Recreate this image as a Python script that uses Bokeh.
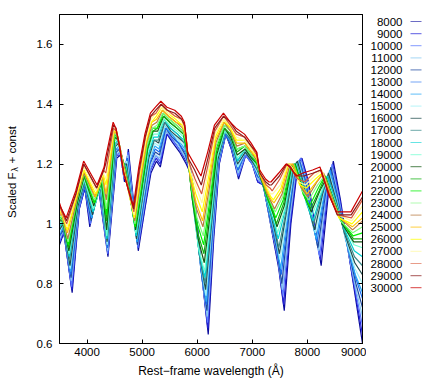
import math
from bokeh.plotting import figure
from bokeh.models import Range1d, FixedTicker, LinearAxis, ColumnDataSource
from bokeh.layouts import row
from bokeh.embed import file_html
from bokeh.resources import INLINE
from bokeh.core.properties import value

# ---------------- data ----------------
velocities = [8000, 9000, 10000, 11000, 12000, 13000, 14000, 15000, 16000, 17000, 18000,
              19000, 20000, 21000, 22000, 23000, 24000, 25000, 26000, 27000, 28000, 29000, 30000]

series_colors = ["#0a0a9c", "#2424d8", "#5a78ff", "#86c8f0", "#1f4aa0", "#1a6cf0", "#2aa8f5",
                 "#9ff0f5", "#1f4d4d", "#3c8c8c", "#00d2d2", "#70ffd0", "#145a14", "#10b010",
                 "#00f000", "#80f880", "#b87840", "#ffc000", "#ffff00", "#fff8a0", "#d85a3a",
                 "#8a1c1c", "#cc0000"]

x_ticks = [4000, 5000, 6000, 7000, 8000, 9000]
y_ticks = [0.6, 0.8, 1, 1.2, 1.4, 1.6]
y_tick_labels = ["0.6", "0.8", "1", "1.2", "1.4", "1.6"]

# Spectral feature points; entry i of each list belongs to velocities[i].
wave_01 = [3500, 3500, 3500, 3500, 3500, 3500, 3500, 3500, 3500, 3500, 3500, 3500, 3500, 3500, 3500, 3500, 3500, 3500, 3500, 3500, 3500, 3500, 3500]
flux_01 = [0.93, 0.94, 0.94, 0.95, 0.96, 0.96, 0.97, 0.97, 0.98, 0.99, 0.99, 1.00, 1.01, 1.01, 1.02, 1.03, 1.03, 1.04, 1.04, 1.05, 1.06, 1.06, 1.07]
wave_02 = [3580, 3578, 3576, 3574, 3572, 3570, 3568, 3566, 3564, 3562, 3560, 3558, 3556, 3554, 3552, 3550, 3548, 3546, 3544, 3542, 3540, 3538, 3536]
flux_02 = [0.97, 0.97, 0.98, 0.98, 0.98, 0.99, 0.99, 1.00, 1.00, 1.00, 1.01, 1.01, 1.01, 1.02, 1.02, 1.02, 1.03, 1.03, 1.04, 1.04, 1.04, 1.05, 1.05]
wave_03 = [3730, 3725, 3720, 3715, 3710, 3705, 3700, 3695, 3690, 3685, 3680, 3675, 3670, 3665, 3660, 3655, 3650, 3645, 3640, 3635, 3630, 3625, 3620]
flux_03 = [0.77, 0.78, 0.79, 0.81, 0.82, 0.83, 0.84, 0.85, 0.86, 0.88, 0.89, 0.90, 0.91, 0.92, 0.93, 0.94, 0.95, 0.97, 0.98, 0.99, 1.00, 1.01, 1.02]
wave_04 = [3860, 3857, 3854, 3851, 3848, 3845, 3842, 3839, 3836, 3833, 3830, 3827, 3824, 3821, 3818, 3815, 3812, 3809, 3806, 3803, 3800, 3797, 3794]
flux_04 = [1.05, 1.05, 1.05, 1.06, 1.06, 1.06, 1.06, 1.06, 1.06, 1.07, 1.07, 1.07, 1.07, 1.08, 1.08, 1.08, 1.08, 1.09, 1.09, 1.10, 1.10, 1.10, 1.11]
wave_05 = [3960, 3959, 3958, 3957, 3956, 3955, 3954, 3953, 3952, 3951, 3950, 3949, 3948, 3947, 3946, 3945, 3944, 3943, 3942, 3941, 3940, 3939, 3938]
flux_05 = [1.12, 1.12, 1.13, 1.13, 1.13, 1.13, 1.14, 1.14, 1.14, 1.14, 1.15, 1.15, 1.16, 1.16, 1.17, 1.17, 1.17, 1.18, 1.18, 1.19, 1.20, 1.20, 1.21]
wave_06 = [4050, 4056, 4062, 4068, 4074, 4080, 4086, 4092, 4098, 4104, 4110, 4116, 4122, 4128, 4134, 4140, 4146, 4152, 4158, 4164, 4170, 4176, 4182]
flux_06 = [0.99, 1.00, 1.00, 1.01, 1.01, 1.02, 1.02, 1.03, 1.03, 1.04, 1.04, 1.05, 1.06, 1.07, 1.07, 1.08, 1.09, 1.09, 1.10, 1.11, 1.12, 1.12, 1.13]
wave_07 = [4200, 4205, 4210, 4215, 4220, 4225, 4230, 4235, 4240, 4245, 4250, 4255, 4260, 4265, 4270, 4275, 4280, 4285, 4290, 4295, 4300, 4305, 4310]
flux_07 = [1.13, 1.13, 1.13, 1.13, 1.13, 1.13, 1.13, 1.13, 1.13, 1.13, 1.13, 1.13, 1.14, 1.14, 1.15, 1.15, 1.16, 1.16, 1.17, 1.17, 1.18, 1.18, 1.19]
wave_08 = [4380, 4378, 4376, 4374, 4372, 4370, 4368, 4366, 4364, 4362, 4360, 4358, 4356, 4354, 4352, 4350, 4348, 4346, 4344, 4342, 4340, 4338, 4336]
flux_08 = [0.89, 0.90, 0.90, 0.91, 0.92, 0.92, 0.93, 0.93, 0.94, 0.95, 0.95, 0.96, 0.98, 1.01, 1.03, 1.05, 1.08, 1.10, 1.13, 1.15, 1.17, 1.20, 1.22]
wave_09 = [4540, 4537, 4534, 4531, 4528, 4525, 4522, 4519, 4516, 4513, 4510, 4507, 4504, 4501, 4498, 4495, 4492, 4489, 4486, 4483, 4480, 4477, 4474]
flux_09 = [1.22, 1.23, 1.23, 1.24, 1.24, 1.25, 1.25, 1.26, 1.26, 1.27, 1.27, 1.28, 1.29, 1.29, 1.30, 1.30, 1.31, 1.31, 1.31, 1.32, 1.32, 1.33, 1.34]
wave_10 = [4610, 4606, 4602, 4598, 4594, 4590, 4586, 4582, 4578, 4574, 4570, 4566, 4562, 4558, 4554, 4550, 4546, 4542, 4538, 4534, 4530, 4526, 4522]
flux_10 = [1.23, 1.23, 1.24, 1.24, 1.25, 1.25, 1.26, 1.26, 1.27, 1.27, 1.28, 1.28, 1.28, 1.29, 1.29, 1.30, 1.30, 1.30, 1.31, 1.31, 1.31, 1.32, 1.32]
wave_11 = [4680, 4676, 4672, 4668, 4664, 4660, 4656, 4652, 4648, 4644, 4640, 4636, 4632, 4628, 4624, 4620, 4616, 4612, 4608, 4604, 4600, 4596, 4592]
flux_11 = [1.14, 1.15, 1.15, 1.16, 1.17, 1.18, 1.18, 1.19, 1.20, 1.21, 1.21, 1.22, 1.22, 1.23, 1.23, 1.23, 1.24, 1.24, 1.24, 1.25, 1.25, 1.25, 1.26]
wave_12 = [4750, 4746, 4742, 4738, 4734, 4730, 4726, 4722, 4718, 4714, 4710, 4706, 4702, 4698, 4694, 4690, 4686, 4682, 4678, 4674, 4670, 4666, 4662]
flux_12 = [1.25, 1.24, 1.24, 1.23, 1.22, 1.22, 1.21, 1.21, 1.20, 1.19, 1.19, 1.18, 1.18, 1.18, 1.18, 1.18, 1.18, 1.17, 1.17, 1.17, 1.17, 1.17, 1.17]
wave_13 = [4930, 4926, 4922, 4918, 4914, 4910, 4906, 4902, 4898, 4894, 4890, 4886, 4882, 4878, 4874, 4870, 4866, 4862, 4858, 4854, 4850, 4846, 4842]
flux_13 = [0.91, 0.92, 0.92, 0.93, 0.93, 0.94, 0.94, 0.95, 0.95, 0.96, 0.96, 0.97, 0.98, 0.99, 0.99, 1.00, 1.01, 1.02, 1.02, 1.03, 1.04, 1.05, 1.06]
wave_14 = [5050, 5045, 5040, 5035, 5030, 5025, 5020, 5015, 5010, 5005, 5000, 4995, 4990, 4985, 4980, 4975, 4970, 4965, 4960, 4955, 4950, 4945, 4940]
flux_14 = [1.05, 1.05, 1.06, 1.06, 1.07, 1.07, 1.08, 1.08, 1.09, 1.09, 1.10, 1.10, 1.11, 1.11, 1.12, 1.13, 1.14, 1.15, 1.16, 1.17, 1.17, 1.18, 1.19]
wave_15 = [5160, 5155, 5150, 5145, 5140, 5135, 5130, 5125, 5120, 5115, 5110, 5105, 5100, 5095, 5090, 5085, 5080, 5075, 5070, 5065, 5060, 5055, 5050]
flux_15 = [1.17, 1.18, 1.18, 1.19, 1.20, 1.20, 1.21, 1.21, 1.22, 1.23, 1.23, 1.24, 1.25, 1.25, 1.26, 1.26, 1.27, 1.27, 1.28, 1.28, 1.29, 1.29, 1.30]
wave_16 = [5260, 5255, 5250, 5245, 5240, 5235, 5230, 5225, 5220, 5215, 5210, 5205, 5200, 5195, 5190, 5185, 5180, 5175, 5170, 5165, 5160, 5155, 5150]
flux_16 = [1.21, 1.22, 1.23, 1.23, 1.24, 1.25, 1.26, 1.27, 1.28, 1.28, 1.29, 1.30, 1.31, 1.31, 1.32, 1.32, 1.33, 1.34, 1.34, 1.35, 1.36, 1.36, 1.37]
wave_17 = [5330, 5326, 5322, 5318, 5314, 5310, 5306, 5302, 5298, 5294, 5290, 5286, 5282, 5278, 5274, 5270, 5266, 5262, 5258, 5254, 5250, 5246, 5242]
flux_17 = [1.19, 1.20, 1.21, 1.22, 1.23, 1.24, 1.25, 1.26, 1.27, 1.28, 1.29, 1.30, 1.31, 1.32, 1.32, 1.33, 1.34, 1.35, 1.36, 1.37, 1.37, 1.38, 1.39]
wave_18 = [5450, 5445, 5440, 5435, 5430, 5425, 5420, 5415, 5410, 5405, 5400, 5395, 5390, 5385, 5380, 5375, 5370, 5365, 5360, 5355, 5350, 5345, 5340]
flux_18 = [1.30, 1.30, 1.31, 1.31, 1.32, 1.32, 1.33, 1.33, 1.34, 1.34, 1.35, 1.35, 1.36, 1.36, 1.37, 1.37, 1.38, 1.38, 1.39, 1.39, 1.40, 1.40, 1.41]
wave_19 = [5560, 5555, 5550, 5545, 5540, 5535, 5530, 5525, 5520, 5515, 5510, 5505, 5500, 5495, 5490, 5485, 5480, 5475, 5470, 5465, 5460, 5455, 5450]
flux_19 = [1.27, 1.28, 1.28, 1.29, 1.29, 1.30, 1.30, 1.31, 1.31, 1.32, 1.32, 1.33, 1.34, 1.34, 1.35, 1.35, 1.36, 1.36, 1.37, 1.37, 1.38, 1.38, 1.39]
wave_20 = [5680, 5676, 5672, 5668, 5664, 5660, 5656, 5652, 5648, 5644, 5640, 5636, 5632, 5628, 5624, 5620, 5616, 5612, 5608, 5604, 5600, 5596, 5592]
flux_20 = [1.24, 1.25, 1.25, 1.26, 1.27, 1.27, 1.28, 1.28, 1.29, 1.30, 1.30, 1.31, 1.32, 1.32, 1.33, 1.33, 1.34, 1.34, 1.35, 1.36, 1.36, 1.37, 1.38]
wave_21 = [5800, 5796, 5792, 5788, 5784, 5780, 5776, 5772, 5768, 5764, 5760, 5756, 5752, 5748, 5744, 5740, 5736, 5732, 5728, 5724, 5720, 5716, 5712]
flux_21 = [1.20, 1.21, 1.22, 1.22, 1.23, 1.24, 1.25, 1.26, 1.27, 1.27, 1.28, 1.29, 1.30, 1.30, 1.31, 1.31, 1.32, 1.33, 1.33, 1.34, 1.35, 1.35, 1.36]
wave_22 = [5900, 5894, 5888, 5882, 5876, 5870, 5864, 5858, 5852, 5846, 5840, 5834, 5828, 5822, 5816, 5810, 5804, 5798, 5792, 5786, 5780, 5774, 5768]
flux_22 = [1.16, 1.17, 1.17, 1.18, 1.18, 1.19, 1.19, 1.20, 1.20, 1.21, 1.21, 1.22, 1.23, 1.24, 1.25, 1.27, 1.28, 1.29, 1.30, 1.31, 1.32, 1.33, 1.34]
wave_23 = [6000, 5992, 5984, 5976, 5968, 5960, 5952, 5944, 5936, 5928, 5920, 5912, 5904, 5896, 5888, 5880, 5872, 5864, 5856, 5848, 5840, 5832, 5824]
flux_23 = [1.00, 1.01, 1.01, 1.02, 1.03, 1.04, 1.04, 1.05, 1.06, 1.07, 1.07, 1.08, 1.09, 1.11, 1.12, 1.14, 1.15, 1.17, 1.18, 1.19, 1.21, 1.22, 1.24]
wave_24 = [6100, 6093, 6086, 6079, 6072, 6065, 6058, 6051, 6044, 6037, 6030, 6023, 6016, 6009, 6002, 5995, 5988, 5981, 5974, 5967, 5960, 5953, 5946]
flux_24 = [0.80, 0.81, 0.82, 0.83, 0.84, 0.85, 0.87, 0.88, 0.89, 0.90, 0.91, 0.92, 0.95, 0.97, 1.00, 1.02, 1.05, 1.07, 1.10, 1.13, 1.15, 1.18, 1.20]
wave_25 = [6200, 6194, 6188, 6182, 6176, 6170, 6164, 6158, 6152, 6146, 6140, 6134, 6128, 6122, 6116, 6110, 6104, 6098, 6092, 6086, 6080, 6074, 6068]
flux_25 = [0.63, 0.65, 0.67, 0.69, 0.71, 0.73, 0.74, 0.76, 0.78, 0.80, 0.82, 0.84, 0.87, 0.90, 0.93, 0.96, 0.99, 1.01, 1.04, 1.07, 1.10, 1.13, 1.16]
wave_26 = [6300, 6295, 6290, 6285, 6280, 6275, 6270, 6265, 6260, 6255, 6250, 6245, 6240, 6235, 6230, 6225, 6220, 6215, 6210, 6205, 6200, 6195, 6190]
flux_26 = [0.95, 0.96, 0.96, 0.97, 0.98, 0.98, 0.99, 0.99, 1.00, 1.01, 1.01, 1.02, 1.04, 1.06, 1.08, 1.10, 1.12, 1.14, 1.16, 1.18, 1.20, 1.22, 1.24]
wave_27 = [6400, 6396, 6392, 6388, 6384, 6380, 6376, 6372, 6368, 6364, 6360, 6356, 6352, 6348, 6344, 6340, 6336, 6332, 6328, 6324, 6320, 6316, 6312]
flux_27 = [1.20, 1.20, 1.20, 1.21, 1.21, 1.21, 1.21, 1.21, 1.21, 1.22, 1.22, 1.22, 1.23, 1.24, 1.25, 1.26, 1.27, 1.28, 1.29, 1.30, 1.31, 1.32, 1.33]
wave_28 = [6520, 6518, 6516, 6514, 6512, 6510, 6508, 6506, 6504, 6502, 6500, 6498, 6496, 6494, 6492, 6490, 6488, 6486, 6484, 6482, 6480, 6478, 6476]
flux_28 = [1.30, 1.30, 1.30, 1.30, 1.30, 1.30, 1.31, 1.31, 1.31, 1.31, 1.31, 1.31, 1.32, 1.32, 1.33, 1.33, 1.34, 1.34, 1.35, 1.35, 1.36, 1.36, 1.37]
wave_29 = [6620, 6619, 6618, 6617, 6616, 6615, 6614, 6613, 6612, 6611, 6610, 6609, 6608, 6607, 6606, 6605, 6604, 6603, 6602, 6601, 6600, 6599, 6598]
flux_29 = [1.25, 1.25, 1.26, 1.26, 1.26, 1.27, 1.27, 1.28, 1.28, 1.28, 1.29, 1.29, 1.29, 1.30, 1.31, 1.31, 1.31, 1.32, 1.32, 1.33, 1.33, 1.34, 1.34]
wave_30 = [6750, 6748, 6746, 6744, 6742, 6740, 6738, 6736, 6734, 6732, 6730, 6728, 6726, 6724, 6722, 6720, 6718, 6716, 6714, 6712, 6710, 6708, 6706]
flux_30 = [1.15, 1.16, 1.16, 1.17, 1.18, 1.18, 1.19, 1.19, 1.20, 1.21, 1.21, 1.22, 1.23, 1.24, 1.25, 1.25, 1.26, 1.27, 1.28, 1.29, 1.30, 1.31, 1.32]
wave_31 = [6880, 6879, 6878, 6877, 6876, 6875, 6874, 6873, 6872, 6871, 6870, 6869, 6868, 6867, 6866, 6865, 6864, 6863, 6862, 6861, 6860, 6859, 6858]
flux_31 = [1.23, 1.23, 1.23, 1.24, 1.24, 1.24, 1.24, 1.24, 1.24, 1.25, 1.25, 1.25, 1.25, 1.26, 1.26, 1.26, 1.27, 1.27, 1.28, 1.28, 1.29, 1.29, 1.30]
wave_32 = [7000, 6999, 6998, 6997, 6996, 6995, 6994, 6993, 6992, 6991, 6990, 6989, 6988, 6987, 6986, 6985, 6984, 6983, 6982, 6981, 6980, 6979, 6978]
flux_32 = [1.20, 1.20, 1.20, 1.21, 1.21, 1.21, 1.21, 1.21, 1.21, 1.22, 1.22, 1.22, 1.22, 1.23, 1.23, 1.23, 1.24, 1.24, 1.25, 1.25, 1.26, 1.26, 1.27]
wave_33 = [7100, 7099, 7098, 7097, 7096, 7095, 7094, 7093, 7092, 7091, 7090, 7089, 7088, 7087, 7086, 7085, 7084, 7083, 7082, 7081, 7080, 7079, 7078]
flux_33 = [1.14, 1.14, 1.15, 1.15, 1.16, 1.16, 1.17, 1.17, 1.18, 1.18, 1.19, 1.19, 1.20, 1.20, 1.20, 1.21, 1.21, 1.22, 1.22, 1.23, 1.23, 1.24, 1.24]
wave_34 = [7200, 7197, 7194, 7191, 7188, 7185, 7182, 7179, 7176, 7173, 7170, 7167, 7164, 7161, 7158, 7155, 7152, 7149, 7146, 7143, 7140, 7137, 7134]
flux_34 = [1.13, 1.13, 1.13, 1.14, 1.14, 1.14, 1.14, 1.14, 1.14, 1.15, 1.15, 1.15, 1.15, 1.15, 1.16, 1.16, 1.16, 1.16, 1.17, 1.17, 1.17, 1.17, 1.18]
wave_35 = [7350, 7345, 7340, 7335, 7330, 7325, 7320, 7315, 7310, 7305, 7300, 7295, 7290, 7285, 7280, 7275, 7270, 7265, 7260, 7255, 7250, 7245, 7240]
flux_35 = [0.98, 0.99, 1.00, 1.00, 1.01, 1.02, 1.03, 1.04, 1.05, 1.05, 1.06, 1.07, 1.08, 1.08, 1.09, 1.10, 1.10, 1.11, 1.12, 1.13, 1.13, 1.14, 1.15]
wave_36 = [7480, 7472, 7464, 7456, 7448, 7440, 7432, 7424, 7416, 7408, 7400, 7392, 7384, 7376, 7368, 7360, 7352, 7344, 7336, 7328, 7320, 7312, 7304]
flux_36 = [0.85, 0.87, 0.88, 0.90, 0.91, 0.93, 0.94, 0.96, 0.97, 0.99, 1.00, 1.02, 1.03, 1.04, 1.05, 1.06, 1.07, 1.08, 1.09, 1.10, 1.12, 1.13, 1.14]
wave_37 = [7580, 7569, 7558, 7547, 7536, 7525, 7514, 7503, 7492, 7481, 7470, 7459, 7448, 7437, 7426, 7415, 7404, 7393, 7382, 7371, 7360, 7349, 7338]
flux_37 = [0.71, 0.73, 0.76, 0.78, 0.80, 0.83, 0.85, 0.88, 0.90, 0.92, 0.95, 0.97, 0.99, 1.00, 1.02, 1.04, 1.05, 1.07, 1.08, 1.10, 1.11, 1.13, 1.14]
wave_38 = [7700, 7690, 7680, 7670, 7660, 7650, 7640, 7630, 7620, 7610, 7600, 7590, 7580, 7570, 7560, 7550, 7540, 7530, 7520, 7510, 7500, 7490, 7480]
flux_38 = [1.00, 1.00, 1.01, 1.01, 1.02, 1.02, 1.03, 1.03, 1.04, 1.04, 1.05, 1.05, 1.06, 1.07, 1.08, 1.09, 1.10, 1.11, 1.12, 1.13, 1.15, 1.16, 1.17]
wave_39 = [7830, 7820, 7810, 7800, 7790, 7780, 7770, 7760, 7750, 7740, 7730, 7720, 7710, 7700, 7690, 7680, 7670, 7660, 7650, 7640, 7630, 7620, 7610]
flux_39 = [1.20, 1.20, 1.20, 1.20, 1.20, 1.20, 1.19, 1.19, 1.19, 1.19, 1.19, 1.19, 1.19, 1.19, 1.19, 1.19, 1.19, 1.20, 1.20, 1.20, 1.20, 1.20, 1.20]
wave_40 = [7900, 7890, 7880, 7870, 7860, 7850, 7840, 7830, 7820, 7810, 7800, 7790, 7780, 7770, 7760, 7750, 7740, 7730, 7720, 7710, 7700, 7690, 7680]
flux_40 = [1.22, 1.22, 1.22, 1.21, 1.21, 1.21, 1.21, 1.21, 1.21, 1.20, 1.20, 1.20, 1.20, 1.20, 1.20, 1.20, 1.20, 1.20, 1.19, 1.19, 1.19, 1.19, 1.19]
wave_41 = [8020, 8008, 7996, 7984, 7972, 7960, 7948, 7936, 7924, 7912, 7900, 7888, 7876, 7864, 7852, 7840, 7828, 7816, 7804, 7792, 7780, 7768, 7756]
flux_41 = [1.14, 1.14, 1.14, 1.14, 1.14, 1.14, 1.14, 1.14, 1.14, 1.14, 1.14, 1.14, 1.14, 1.15, 1.15, 1.15, 1.15, 1.16, 1.16, 1.16, 1.16, 1.17, 1.17]
wave_42 = [8130, 8115, 8100, 8085, 8070, 8055, 8040, 8025, 8010, 7995, 7980, 7965, 7950, 7935, 7920, 7905, 7890, 7875, 7860, 7845, 7830, 7815, 7800]
flux_42 = [1.00, 1.01, 1.01, 1.02, 1.03, 1.04, 1.04, 1.05, 1.06, 1.07, 1.07, 1.08, 1.09, 1.10, 1.10, 1.11, 1.12, 1.13, 1.13, 1.14, 1.15, 1.16, 1.16]
wave_43 = [8250, 8235, 8220, 8205, 8190, 8175, 8160, 8145, 8130, 8115, 8100, 8085, 8070, 8055, 8040, 8025, 8010, 7995, 7980, 7965, 7950, 7935, 7920]
flux_43 = [0.86, 0.88, 0.89, 0.91, 0.92, 0.94, 0.95, 0.97, 0.98, 1.00, 1.01, 1.03, 1.04, 1.05, 1.06, 1.08, 1.09, 1.10, 1.12, 1.13, 1.14, 1.16, 1.17]
wave_44 = [8380, 8367, 8354, 8341, 8328, 8315, 8302, 8289, 8276, 8263, 8250, 8237, 8224, 8211, 8198, 8185, 8172, 8159, 8146, 8133, 8120, 8107, 8094]
flux_44 = [1.10, 1.10, 1.10, 1.10, 1.10, 1.10, 1.10, 1.10, 1.10, 1.10, 1.10, 1.10, 1.11, 1.11, 1.12, 1.13, 1.14, 1.14, 1.15, 1.16, 1.17, 1.17, 1.18]
wave_45 = [8470, 8459, 8448, 8437, 8426, 8415, 8404, 8393, 8382, 8371, 8360, 8349, 8338, 8327, 8316, 8305, 8294, 8283, 8272, 8261, 8250, 8239, 8228]
flux_45 = [1.21, 1.20, 1.20, 1.19, 1.19, 1.18, 1.18, 1.17, 1.17, 1.16, 1.16, 1.15, 1.15, 1.16, 1.16, 1.16, 1.17, 1.17, 1.17, 1.18, 1.18, 1.18, 1.19]
wave_46 = [8600, 8590, 8580, 8570, 8560, 8550, 8540, 8530, 8520, 8510, 8500, 8490, 8480, 8470, 8460, 8450, 8440, 8430, 8420, 8410, 8400, 8390, 8380]
flux_46 = [1.08, 1.08, 1.08, 1.08, 1.08, 1.08, 1.08, 1.08, 1.08, 1.08, 1.08, 1.08, 1.08, 1.08, 1.08, 1.09, 1.09, 1.09, 1.09, 1.09, 1.10, 1.10, 1.10]
wave_47 = [8750, 8740, 8730, 8720, 8710, 8700, 8690, 8680, 8670, 8660, 8650, 8640, 8630, 8620, 8610, 8600, 8590, 8580, 8570, 8560, 8550, 8540, 8530]
flux_47 = [0.90, 0.91, 0.92, 0.93, 0.94, 0.95, 0.95, 0.96, 0.97, 0.98, 0.99, 1.00, 1.00, 1.01, 1.01, 1.01, 1.02, 1.02, 1.02, 1.03, 1.03, 1.03, 1.04]
wave_48 = [8900, 8895, 8890, 8885, 8880, 8875, 8870, 8865, 8860, 8855, 8850, 8845, 8840, 8835, 8830, 8825, 8820, 8815, 8810, 8805, 8800, 8795, 8790]
flux_48 = [0.72, 0.74, 0.76, 0.78, 0.80, 0.82, 0.83, 0.85, 0.87, 0.89, 0.91, 0.93, 0.94, 0.95, 0.96, 0.97, 0.98, 0.99, 1.00, 1.01, 1.02, 1.03, 1.04]
wave_49 = [9000, 9000, 9000, 9000, 9000, 9000, 9000, 9000, 9000, 9000, 9000, 9000, 9000, 9000, 9000, 9000, 9000, 9000, 9000, 9000, 9000, 9000, 9000]
flux_49 = [0.60, 0.63, 0.66, 0.69, 0.72, 0.75, 0.77, 0.80, 0.83, 0.86, 0.89, 0.92, 0.94, 0.95, 0.97, 0.99, 1.01, 1.02, 1.04, 1.06, 1.08, 1.09, 1.11]

features = [
    (wave_01, flux_01), (wave_02, flux_02), (wave_03, flux_03), (wave_04, flux_04), (wave_05, flux_05),
    (wave_06, flux_06), (wave_07, flux_07), (wave_08, flux_08), (wave_09, flux_09), (wave_10, flux_10),
    (wave_11, flux_11), (wave_12, flux_12), (wave_13, flux_13), (wave_14, flux_14), (wave_15, flux_15),
    (wave_16, flux_16), (wave_17, flux_17), (wave_18, flux_18), (wave_19, flux_19), (wave_20, flux_20),
    (wave_21, flux_21), (wave_22, flux_22), (wave_23, flux_23), (wave_24, flux_24), (wave_25, flux_25),
    (wave_26, flux_26), (wave_27, flux_27), (wave_28, flux_28), (wave_29, flux_29), (wave_30, flux_30),
    (wave_31, flux_31), (wave_32, flux_32), (wave_33, flux_33), (wave_34, flux_34), (wave_35, flux_35),
    (wave_36, flux_36), (wave_37, flux_37), (wave_38, flux_38), (wave_39, flux_39), (wave_40, flux_40),
    (wave_41, flux_41), (wave_42, flux_42), (wave_43, flux_43), (wave_44, flux_44), (wave_45, flux_45),
    (wave_46, flux_46), (wave_47, flux_47), (wave_48, flux_48), (wave_49, flux_49),
]

# ---------------- layout constants (pixels) ----------------
FONT = "Liberation Sans"
TICK_SIZE = "11.5px"
LABEL_SIZE = "12px"
PAGE_H = 382
FRAME_TOP = 14
FRAME_H = 329
BORDER_BOTTOM = PAGE_H - FRAME_TOP - FRAME_H
YLAB_W = 24
LEG_W = 70

common = dict(output_backend="svg", toolbar_location=None,
              background_fill_color="white", border_fill_color="white",
              frame_height=FRAME_H, min_border_top=FRAME_TOP, min_border_bottom=BORDER_BOTTOM)

# ---------------- main plot ----------------
p = figure(frame_width=303, x_range=Range1d(3500, 9000), y_range=Range1d(0.6, 1.7),
           min_border_left=35, min_border_right=4, **common)
p.xgrid.visible = False
p.ygrid.visible = False
p.outline_line_color = "black"
p.outline_line_width = 1

for i, v in enumerate(velocities):
    xs = [w[i] for w, f in features]
    ys = [f[i] for w, f in features]
    p.line(xs, ys, line_color=series_colors[i], line_width=1.2)

for ax in (p.xaxis[0], p.yaxis[0]):
    ax.major_tick_in = 4
    ax.major_tick_out = 0
    ax.minor_tick_line_color = None
    ax.axis_line_color = "black"
    ax.major_tick_line_color = "black"
    ax.major_label_text_font = FONT
    ax.major_label_text_font_size = TICK_SIZE
    ax.major_label_text_color = "black"

p.xaxis.ticker = FixedTicker(ticks=x_ticks)
p.xaxis.major_label_standoff = 4
p.xaxis.axis_label = "Rest\u2212frame wavelength (\u00c5)"
p.xaxis.axis_label_text_font = FONT
p.xaxis.axis_label_text_font_size = LABEL_SIZE
p.xaxis.axis_label_text_font_style = "normal"
p.xaxis.axis_label_text_color = "black"
p.xaxis.axis_label_standoff = 5

p.yaxis.ticker = FixedTicker(ticks=y_ticks)
p.yaxis.major_label_overrides = dict(zip(y_ticks, y_tick_labels))
p.yaxis.major_label_standoff = 7

for ticks, side in ((x_ticks, "above"), (y_ticks, "right")):
    mirror = LinearAxis(ticker=FixedTicker(ticks=ticks), major_tick_in=4, major_tick_out=0,
                        minor_tick_line_color=None, major_label_text_font_size="0px",
                        major_label_text_color=None, major_label_text_alpha=0,
                        major_label_standoff=0, axis_line_color="black")
    p.add_layout(mirror, side)

# ---------------- y-axis title (own strip, coordinates in pixels) ----------------
ylab = figure(frame_width=YLAB_W, x_range=Range1d(0, YLAB_W),
              y_range=Range1d(BORDER_BOTTOM, PAGE_H - FRAME_TOP),
              x_axis_location=None, y_axis_location=None,
              min_border_left=0, min_border_right=0, **common)
ylab.outline_line_color = None
ylab.grid.visible = False
title_x = 11
title_y = PAGE_H - 172
ylab.text(x=[title_x], y=[title_y], text=["Scaled F"], angle=math.pi / 2,
          text_align="right", text_baseline="middle", text_font=value(FONT),
          text_font_size="11.5px", text_color="black")
ylab.text(x=[title_x + 3], y=[title_y + 1], text=["\u03bb"], angle=math.pi / 2,
          text_align="left", text_baseline="middle", text_font=value(FONT),
          text_font_size="8.5px", text_color="black")
ylab.text(x=[title_x], y=[title_y + 9], text=["+ const"], angle=math.pi / 2,
          text_align="left", text_baseline="middle", text_font=value(FONT),
          text_font_size="11.5px", text_color="black")

# ---------------- legend (text right-aligned, sample line to the right) ----------------
legend_top = 21
row_step = 12.1
rows = [PAGE_H - (legend_top + row_step * k) for k in range(len(velocities))]
leg = figure(frame_width=LEG_W, x_range=Range1d(0, LEG_W),
             y_range=Range1d(BORDER_BOTTOM, PAGE_H - FRAME_TOP),
             x_axis_location=None, y_axis_location=None,
             min_border_left=0, min_border_right=0, **common)
leg.outline_line_color = None
leg.grid.visible = False
src = ColumnDataSource(dict(x=[36] * len(velocities), y=rows,
                            text=[str(v) for v in velocities],
                            x0=[44] * len(velocities), x1=[55] * len(velocities),
                            color=series_colors))
leg.text(x="x", y="y", text="text", source=src, text_align="right", text_baseline="middle",
         text_font=value(FONT), text_font_size=TICK_SIZE, text_color="black")
leg.segment(x0="x0", x1="x1", y0="y", y1="y", source=src, line_color="color",
            line_width=1.2, line_alpha=0.6)

layout = row(ylab, p, leg)
open("out.html", "w").write(file_html(layout, INLINE))
